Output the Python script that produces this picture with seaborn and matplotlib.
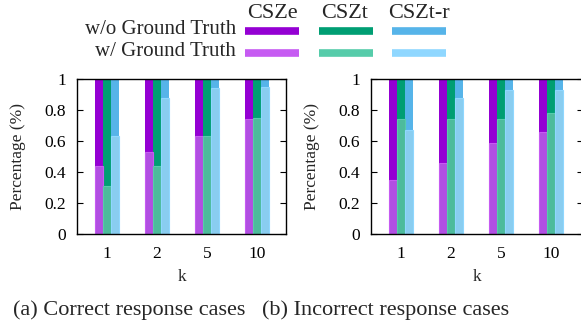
import matplotlib
matplotlib.use("Agg")
import matplotlib.pyplot as plt
import seaborn as sns
import pandas as pd
from matplotlib.lines import Line2D

sns.set_theme(style="white")
plt.rcParams['font.family'] = ['Liberation Serif', 'DejaVu Serif']

ks = ["1", "2", "5", "10"]
methods = ["CSZe", "CSZt", "CSZt-r"]
# w/o Ground Truth (all reach 1.0)
wo_gt = [1.0, 1.0, 1.0, 1.0]
# w/ Ground Truth, panel (a) correct response cases
a_csze = [0.44, 0.53, 0.63, 0.74]
a_cszt = [0.31, 0.44, 0.63, 0.75]
a_csztr = [0.63, 0.88, 0.94, 0.95]
# panel (b) incorrect response cases
b_csze = [0.35, 0.46, 0.59, 0.66]
b_cszt = [0.74, 0.74, 0.74, 0.78]
b_csztr = [0.67, 0.88, 0.93, 0.93]

dark = ["#9400D3", "#009E73", "#56B4E9"]
light_fill = ["#B14FE2", "#4DBB9C", "#89CDF0"]
light_edge = ["#C65BF2", "#56CCAA", "#8FD7FF"]


def frame(vals):
    rows = []
    for m, v in zip(methods, vals):
        for k, y in zip(ks, v):
            rows.append({"k": k, "method": m, "val": y})
    return pd.DataFrame(rows)


W, H = 581, 327
fig = plt.figure(figsize=(W / 100, H / 100), dpi=100)
axA = fig.add_axes([77 / W, (H - 234) / H, 209 / W, 155 / H])
axB = fig.add_axes([371 / W, (H - 234) / H, 212 / W, 155 / H])

TS = 12.5
for ax, vals, cap, cx in [(axA, [a_csze, a_cszt, a_csztr], "(a) Correct response cases", 129),
                          (axB, [b_csze, b_cszt, b_csztr], "(b) Incorrect response cases", 386)]:
    dfd = frame([wo_gt, wo_gt, wo_gt])
    dfl = frame(vals)
    sns.barplot(data=dfd, x="k", y="val", hue="method", palette=dark, width=0.48,
                gap=0, dodge=True, ax=ax, legend=False, errorbar=None, linewidth=0,
                saturation=1)
    sns.barplot(data=dfl, x="k", y="val", hue="method", palette=light_fill, width=0.48,
                gap=0, dodge=True, ax=ax, legend=False, errorbar=None, saturation=1)
    nb = len(ks) * len(methods)
    for i, p in enumerate(ax.patches[nb:]):
        p.set_edgecolor(light_edge[i // len(ks)])
        p.set_linewidth(0.8)
    ax.set_xlim(-0.6, 3.58 if ax is axA else 3.64)
    ax.set_ylim(0, 1)
    ax.set_yticks([0, 0.2, 0.4, 0.6, 0.8, 1])
    ax.set_yticklabels(["0", "0.2", "0.4", "0.6", "0.8", "1"])
    ax.tick_params(axis="y", direction="in", length=4, width=0.8, labelsize=TS,
                   left=True, right=True, pad=8, colors="black")
    ax.tick_params(axis="x", length=0, labelsize=TS, pad=9, colors="black")
    for s in ax.spines.values():
        s.set_visible(True)
        s.set_color("black")
        s.set_linewidth(1.0)
    ax.set_xlabel("k", fontsize=TS, labelpad=5)
    ax.set_ylabel("Percentage (%)", fontsize=TS, labelpad=13)
    fig.text(cx / W, 1 - 310 / H, cap, ha="center", va="center", fontsize=16)

# legend block at top
fig.text(236 / W, 1 - 29 / H, "w/o Ground Truth", ha="right", va="center", fontsize=15)
fig.text(236 / W, 1 - 52 / H, "w/ Ground Truth", ha="right", va="center", fontsize=15)
heads = [(272, "CSZe"), (345, "CSZt"), (419, "CSZt-r")]
spans = [(245, 299), (319, 373), (392, 446)]
for (hx, name), (x0, x1), dc, lc in zip(heads, spans, dark, light_edge):
    fig.text(hx / W, 1 - 13 / H, name, ha="center", va="center", fontsize=16)
    fig.add_artist(Line2D([x0 / W, x1 / W], [1 - 31 / H, 1 - 31 / H], color=dc, lw=5.5,
                          solid_capstyle="butt"))
    fig.add_artist(Line2D([x0 / W, x1 / W], [1 - 53 / H, 1 - 53 / H], color=lc, lw=5.5,
                          solid_capstyle="butt"))

fig.savefig("out.png", dpi=100)
